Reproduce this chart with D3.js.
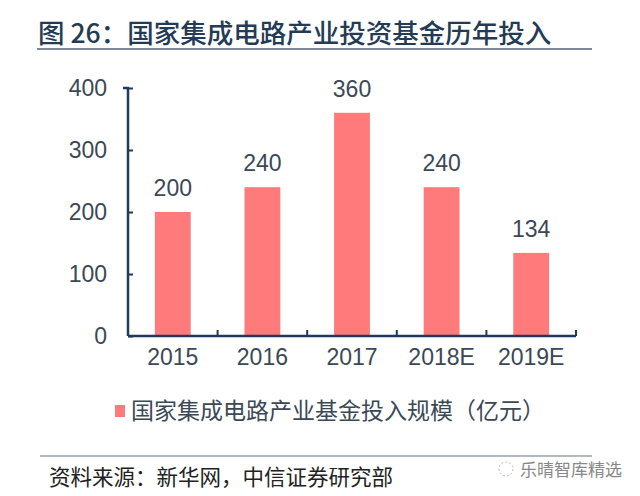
<!DOCTYPE html>
<html>
<head>
<meta charset="utf-8">
<script src="https://cdn.jsdelivr.net/npm/d3@7"></script>
<style>
  body { margin: 0; background: #fff; }
  svg { display: block; font-family: "Liberation Sans", Arial, sans-serif; }
  .cjk { font-family: "Noto Sans CJK SC", sans-serif; }
</style>
</head>
<body>
<svg id="chart" width="640" height="496"></svg>
<script>
var years = ["2015", "2016", "2017", "2018E", "2019E"];
var invest = [200, 240, 360, 240, 134];
var yTicks = [0, 100, 200, 300, 400];

var svg = d3.select("#chart"),
    margin = {top: 88, left: 128, right: 64, bottom: 160},
    width = +svg.attr("width") - margin.left - margin.right,
    height = +svg.attr("height") - margin.top - margin.bottom,
    g = svg.append("g").attr("transform", "translate(" + margin.left + "," + margin.top + ")");

var axisColor = "#1f3a5c", barColor = "#ff7b7b", textColor = "#3b4856";

// title
svg.append("text").attr("class", "cjk")
  .attr("x", 38).attr("y", 43)
  .attr("font-size", 26.5).attr("font-weight", 500).attr("fill", "#243b55")
  .text("图 26：国家集成电路产业投资基金历年投入");
svg.append("line").attr("x1", 37).attr("x2", 592).attr("y1", 49).attr("y2", 49)
  .attr("stroke", "#7f8a96").attr("stroke-width", 2);

var x = d3.scaleBand().domain(years).range([0, width]).paddingInner(0.6).paddingOuter(0.3);
var y = d3.scaleLinear().domain([0, 400]).range([height, 0]);

g.selectAll(".bar").data(invest).enter().append("rect")
  .attr("x", function(d, i) { return x(years[i]); })
  .attr("y", function(d) { return y(d); })
  .attr("width", x.bandwidth())
  .attr("height", function(d) { return height - y(d); })
  .attr("fill", barColor);

g.selectAll(".lbl").data(invest).enter().append("text")
  .attr("x", function(d, i) { return x(years[i]) + x.bandwidth() / 2; })
  .attr("y", function(d) { return y(d) - 16; })
  .attr("text-anchor", "middle").attr("font-size", 23).attr("fill", textColor)
  .text(function(d) { return d; });

// y axis
var yAxis = g.append("g").call(d3.axisLeft(y).tickValues(yTicks).tickSize(-5).tickPadding(21));
// x axis, ticks pointing up between categories
var xAxis = g.append("g").attr("transform", "translate(0," + height + ")")
  .call(d3.axisBottom(x).tickSize(0).tickPadding(10));

var step = width / years.length;
xAxis.selectAll(".sep").data(d3.range(1, years.length + 1)).enter().append("line")
  .attr("x1", function(d) { return d * step; }).attr("x2", function(d) { return d * step; })
  .attr("y1", 0).attr("y2", -6).attr("stroke", axisColor).attr("stroke-width", 2);

[yAxis, xAxis].forEach(function(a) {
  a.select(".domain").attr("stroke", axisColor).attr("stroke-width", 2.5);
  a.selectAll(".tick line").attr("stroke", axisColor).attr("stroke-width", 2);
  a.selectAll("text").attr("font-size", 23).attr("fill", textColor)
    .attr("font-family", "Liberation Sans, Arial, sans-serif");
});
yAxis.select(".domain").attr("d", "M-5,0H0V" + height);
xAxis.select(".domain").attr("d", "M0,0H" + width);
xAxis.selectAll(".tick text").attr("y", 29).attr("dy", 0);

// legend
svg.append("rect").attr("x", 115).attr("y", 405).attr("width", 10).attr("height", 12).attr("fill", barColor);
svg.append("text").attr("class", "cjk").attr("x", 131).attr("y", 419)
  .attr("font-size", 23).attr("fill", textColor)
  .text("国家集成电路产业基金投入规模（亿元）");

// source
svg.append("line").attr("x1", 40).attr("x2", 592).attr("y1", 456).attr("y2", 456)
  .attr("stroke", "#9aa2aa").attr("stroke-width", 1.5);
svg.append("text").attr("class", "cjk").attr("x", 49).attr("y", 485)
  .attr("font-size", 21.5).attr("fill", "#222")
  .text("资料来源：新华网，中信证券研究部");
svg.append("circle").attr("cx", 506).attr("cy", 469).attr("r", 7)
  .attr("fill", "none").attr("stroke", "#bbb").attr("stroke-dasharray", "2,2");
svg.append("text").attr("class", "cjk").attr("x", 520).attr("y", 476)
  .attr("font-size", 17).attr("fill", "#888")
  .text("乐晴智库精选");
</script>
</body>
</html>
